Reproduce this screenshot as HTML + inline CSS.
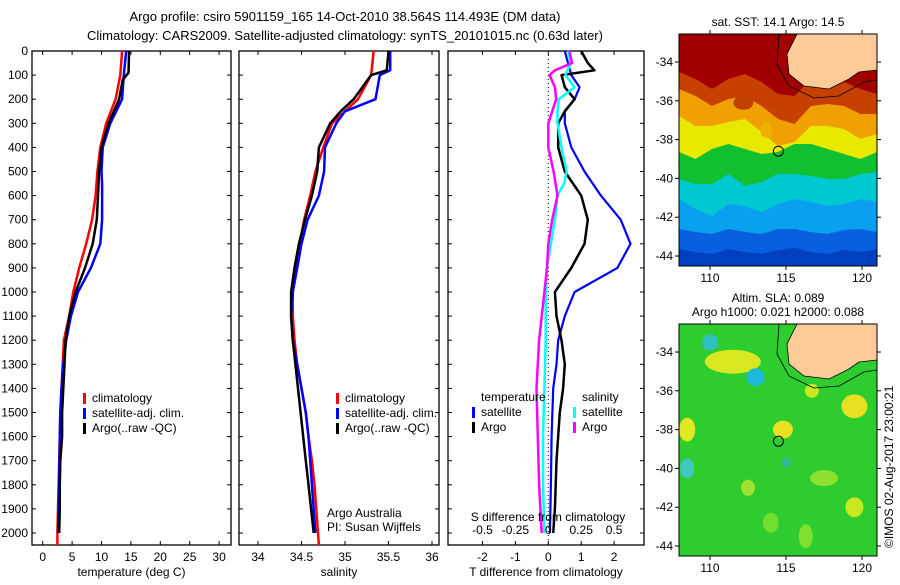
<!DOCTYPE html>
<html><head><meta charset="utf-8"><style>
body{margin:0;background:#fff;}
svg text{font-family:"Liberation Sans",sans-serif;font-size:12px;fill:#000;}
</style></head><body>
<svg id="fig" width="900" height="580" xmlns="http://www.w3.org/2000/svg">
<text x="345" y="21" text-anchor="middle" style="font-size:13px">Argo profile: csiro 5901159_165 14-Oct-2010 38.564S 114.493E (DM data)</text>
<text x="345" y="40" text-anchor="middle" style="font-size:13px">Climatology: CARS2009. Satellite-adjusted climatology: synTS_20101015.nc (0.63d later)</text>
<g id="p1"></g>
<g id="p2"></g>
<g id="p3"></g>
<g id="m1"></g>
<g id="m2"></g>
<text transform="translate(893,548) rotate(-90)" style="font-size:12px">©IMOS 02-Aug-2017 23:00:21</text>
</svg>
<script>
// ---- data ----
const depthTicks=[0,100,200,300,400,500,600,700,800,900,1000,1100,1200,1300,1400,1500,1600,1700,1800,1900,2000];
const tempTicks=[0,5,10,15,20,25,30];
const salTicks=[34,34.5,35,35.5,36];
const tdiffTicks=[-2,-1,0,1,2];
const sdiffTicks=[-0.5,-0.25,0,0.25,0.5];
const tClimD=[0,100,200,300,400,500,600,700,800,900,1000,1100,1200,1300,1400,1500,1600,1700,1800,1900,2000,2050];
const tClimV=[13.5,13.2,12.4,10.8,9.8,9.3,9.0,8.4,7.4,6.2,5.2,4.5,3.6,3.4,3.2,3.0,2.9,2.8,2.7,2.6,2.5,2.5];
const tSatD=[0,100,200,300,400,500,550,700,800,900,1000,1100,1200,1300,1400,1500,1600,1800,2000];
const tSatV=[14.2,13.8,13.5,11.5,10.2,10.0,10.1,10.1,9.8,8.2,6.0,4.8,4.0,3.5,3.2,3.0,2.9,2.8,2.6];
const tArgoD=[0,90,120,200,300,400,500,600,700,800,900,1000,1100,1200,1300,1400,1500,1600,1700,1800,1900,2000];
const tArgoV=[14.7,14.6,13.6,13.0,11.2,10.0,9.6,9.4,9.2,8.5,7.2,5.6,4.5,3.9,3.7,3.5,3.3,3.3,3.0,2.9,2.9,2.8];
const sClimD=[0,100,200,250,300,400,500,600,700,800,900,1000,1100,1200,1300,1400,1500,1600,1700,1800,1900,2000,2050];
const sClimV=[35.33,35.3,35.15,35.0,34.85,34.75,34.66,34.6,34.53,34.48,34.43,34.4,34.4,34.42,34.45,34.5,34.55,34.58,34.62,34.65,34.67,34.69,34.7];
const sSatD=[0,80,100,200,250,300,400,500,600,700,800,900,1000,1100,1200,1300,1400,1500,1600,1800,2000];
const sSatV=[35.52,35.52,35.4,35.35,35.0,34.9,34.77,34.76,34.7,34.57,34.5,34.45,34.4,34.38,34.4,34.45,34.5,34.55,34.58,34.62,34.66];
const sArgoD=[0,80,100,200,250,300,400,500,600,700,800,900,1000,1100,1200,1300,1400,1500,1600,1700,1800,1900,2000];
const sArgoV=[35.5,35.48,35.3,35.1,34.95,34.83,34.7,34.68,34.62,34.54,34.47,34.42,34.38,34.38,34.4,34.43,34.46,34.49,34.52,34.55,34.58,34.61,34.64];
const dTSatD=[0,50,100,150,200,250,300,400,500,600,700,800,900,1000,1100,1200,1300,1400,1600,1800,2000];
const dTSatV=[0.5,0.6,0.7,0.95,0.8,0.5,0.5,0.7,1.1,1.6,2.2,2.5,2.1,0.8,0.5,0.3,0.25,0.15,0.1,0.08,0.05];
const dTArgoD=[0,50,80,100,150,200,250,300,400,500,600,700,800,900,1000,1100,1200,1300,1400,1500,1700,1900,2000];
const dTArgoV=[1.0,1.2,1.4,0.4,0.5,0.8,0.5,0.3,0.3,0.5,1.0,1.2,1.1,0.7,0.2,0.25,0.4,0.5,0.45,0.35,0.25,0.2,0.15];
const dSSatD=[0,50,100,150,200,250,300,400,500,550,600,700,800,900,1000,1200,1400,1600,1800,2000];
const dSSatV=[0.15,0.17,0.13,0.2,0.08,0.07,0.07,0.1,0.14,0.12,0.07,0.05,0.02,-0.01,-0.02,-0.02,-0.03,-0.04,-0.04,-0.03];
const dSArgoD=[0,50,80,100,150,200,300,400,500,600,700,800,900,1000,1200,1400,1600,1800,2000];
const dSArgoV=[0.16,0.18,0.05,0.01,0.05,0.06,0.0,0.0,0.04,0.07,0.03,0.0,-0.01,-0.03,-0.07,-0.09,-0.08,-0.07,-0.05];
const latTicks=[-34,-36,-38,-40,-42,-44];
const lonTicks=[110,115,120];
const floatLon=114.5, floatLat=-38.6;

const NS='http://www.w3.org/2000/svg';
function mk(tag,attrs,parent,txt){const e=document.createElementNS(NS,tag);for(const k in attrs)e.setAttribute(k,attrs[k]);if(txt!==undefined)e.textContent=txt;parent.appendChild(e);return e;}
const yD=d=>51+d*0.241;
const pTop=51,pBot=545;

function panel(g,x0,x1,xs,ticks,xlabel,showDepth){
  const r=mk('rect',{x:x0,y:pTop,width:x1-x0,height:pBot-pTop,fill:'none',stroke:'#000','stroke-width':1.3},g);
  
  
  depthTicks.forEach(d=>{
    mk('line',{x1:x0,x2:x0+4,y1:yD(d),y2:yD(d),stroke:'#000'},g);
    mk('line',{x1:x1,x2:x1-4,y1:yD(d),y2:yD(d),stroke:'#000'},g);
    if(showDepth){const t=mk('text',{x:x0-4,y:yD(d)+4,'text-anchor':'end'},g,String(d));
      
      }
  });
  ticks.forEach(v=>{const x=xs(v);
    mk('line',{x1:x,x2:x,y1:pBot,y2:pBot-4,stroke:'#000'},g);
    mk('line',{x1:x,x2:x,y1:pTop,y2:pTop+4,stroke:'#000'},g);
    const t=mk('text',{x:x,y:561,'text-anchor':'middle'},g,String(v));
    
    
  });
  const xl=mk('text',{x:(x0+x1)/2,y:576,'text-anchor':'middle'},g,xlabel);
  
  
}
function line(g,D,V,xs,col,w,name){
  const pts=D.map((d,i)=>xs(V[i]).toFixed(1)+','+yD(d).toFixed(1)).join(' ');
  const p=mk('polyline',{points:pts,fill:'none',stroke:col,'stroke-width':w,'stroke-linejoin':'round'},g);
  
  
}
function legend(g,x,y,items){
  items.forEach((it,i)=>{
    mk('rect',{x:x,y:y+i*15-9,width:3,height:11,fill:it[1]},g);
    const t=mk('text',{x:x+9,y:y+i*15},g,it[0]);
    
    
  });
}
// Panel 1
const g1=document.getElementById('p1');
const xT=v=>42.7+v*5.88;
panel(g1,32,231,xT,tempTicks,'temperature (deg C)',true);
line(g1,tClimD,tClimV,xT,'#f00',2.5,'temp-climatology-line');
line(g1,tSatD,tSatV,xT,'#00f',2.5,'temp-satellite-line');
line(g1,tArgoD,tArgoV,xT,'#000',2.5,'temp-argo-line');
legend(g1,83,402,[['climatology','#f00'],['satellite-adj. clim.','#00f'],['Argo(..raw -QC)','#000']]);
// Panel 2
const g2=document.getElementById('p2');
const xS=v=>258+(v-34)*87;
panel(g2,239,439,xS,salTicks,'salinity',false);
line(g2,sClimD,sClimV,xS,'#f00',2.5,'sal-climatology-line');
line(g2,sSatD,sSatV,xS,'#00f',2.5,'sal-satellite-line');
line(g2,sArgoD,sArgoV,xS,'#000',2.5,'sal-argo-line');
legend(g2,336,402,[['climatology','#f00'],['satellite-adj. clim.','#00f'],['Argo(..raw -QC)','#000']]);
let t=mk('text',{x:327,y:517},g2,'Argo Australia');
t=mk('text',{x:327,y:531},g2,'PI: Susan Wijffels');
// Panel 3
const g3=document.getElementById('p3');
const xDT=v=>548.3+v*32.9;
const xDS=v=>548.3+v*131.6;
panel(g3,448,644,xDT,tdiffTicks,'T difference from climatology',false);
mk('line',{x1:548.3,x2:548.3,y1:pTop,y2:pBot,stroke:'#000','stroke-dasharray':'1,3'},g3);
line(g3,dTSatD,dTSatV,xDT,'#00f',2.2,'tdiff-satellite-line');
line(g3,dTArgoD,dTArgoV,xDT,'#000',2.5,'tdiff-argo-line');
line(g3,dSSatD,dSSatV,xDS,'#0ff',2.5,'sdiff-satellite-line');
line(g3,dSArgoD,dSArgoV,xDS,'#f0f',2.5,'sdiff-argo-line');
sdiffTicks.forEach(v=>{const s=mk('text',{x:xDS(v),y:534,'text-anchor':'middle'},g3,String(v));
  
  });
t=mk('text',{x:548,y:521,'text-anchor':'middle'},g3,'S difference from climatology');
t=mk('text',{x:481,y:401},g3,'temperature');
t=mk('text',{x:582,y:401},g3,'salinity');
legend(g3,472,416,[['satellite','#00f'],['Argo','#000']]);
legend(g3,573,416,[['satellite','#0ff'],['Argo','#f0f']]);

// Maps
function map(g,y0,title,bands,blobs){
  const x0=679,x1=877,y1=y0+232;
  const lonX=l=>710+(l-110)*15.2;
  const latY=l=>y0+28+(-34-l)*19.4;
  const cp=mk('clipPath',{id:'c'+y0},g);mk('rect',{x:x0,y:y0,width:x1-x0,height:y1-y0},cp);
  const inner=mk('g',{'clip-path':'url(#c'+y0+')'},g);
  mk('rect',{x:x0,y:y0,width:x1-x0,height:y1-y0,fill:bands[0][1]},inner);
  bands.slice(1).forEach(b=>{
    const pts=b[0].map((yy,i)=>(x0+i*(x1-x0)/(b[0].length-1)).toFixed(1)+','+(y0+yy)).join(' ');
    mk('polygon',{points:pts+' '+x1+','+y1+' '+x0+','+y1,fill:b[1]},inner);
  });
  blobs.forEach(b=>mk('ellipse',{cx:lonX(b[0]),cy:latY(b[1]),rx:b[2],ry:b[3],fill:b[4]},inner));
  const coast='M'+(x0+118)+','+y0+' L'+(x0+108)+','+(y0+20)+' L'+(x0+110)+','+(y0+40)+' L'+(x0+125)+','+(y0+52)+' L'+(x0+150)+','+(y0+55)+' L'+(x0+170)+','+(y0+45)+' L'+(x0+180)+','+(y0+38)+' L'+x1+','+(y0+36)+' L'+x1+','+y0+' Z';
  mk('path',{d:coast,fill:'#fc9',stroke:'#000','stroke-width':0.8},inner);
  mk('path',{d:'M'+(x0+100)+','+y0+' L'+(x0+98)+','+(y0+30)+' L'+(x0+110)+','+(y0+52)+' L'+(x0+135)+','+(y0+64)+' L'+(x0+160)+','+(y0+62)+' L'+(x0+185)+','+(y0+48)+' L'+x1+','+(y0+46),fill:'none',stroke:'#000','stroke-width':0.8},inner);
  const c=mk('circle',{cx:lonX(floatLon),cy:latY(floatLat),r:5,fill:'none',stroke:'#000'},g);
  
  
  mk('rect',{x:x0,y:y0,width:x1-x0,height:y1-y0,fill:'none',stroke:'#000'},g);
  latTicks.forEach(v=>{const y=latY(v);
    mk('line',{x1:x0,x2:x0-4,y1:y,y2:y,stroke:'#000'},g);mk('line',{x1:x1,x2:x1+4,y1:y,y2:y,stroke:'#000'},g);
    const s=mk('text',{x:x0-6,y:y+4,'text-anchor':'end'},g,String(v));
    
    });
  lonTicks.forEach(v=>{const x=lonX(v);
    mk('line',{x1:x,x2:x,y1:y0,y2:y0-4,stroke:'#000'},g);mk('line',{x1:x,x2:x,y1:y1,y2:y1+4,stroke:'#000'},g);
    const s=mk('text',{x:x,y:y1+16,'text-anchor':'middle'},g,String(v));
    
    });
  title.forEach((tt,i)=>{const s=mk('text',{x:(x0+x1)/2,y:y0-8-(title.length-1-i)*14,'text-anchor':'middle'},g,tt);
    
    });
}
map(document.getElementById('m1'),34,['sat. SST: 14.1  Argo: 14.5'],[
 [null,'#a00000'],
 [[38,45,55,45,40,48,60,62,45,40,48,55,60],'#c84000'],
 [[55,62,72,65,62,72,85,90,72,70,72,80,80],'#f0a000'],
 [[82,92,92,88,85,98,112,108,92,92,95,105,100],'#e8e800'],
 [[118,125,115,110,115,120,118,110,110,115,120,125,118],'#10c030'],
 [[145,150,150,140,152,148,140,140,142,145,145,140,138],'#00c8d0'],
 [[165,175,182,170,172,178,170,165,168,172,170,165,168],'#0aa0f0'],
 [[195,198,200,195,198,200,195,195,198,200,196,195,198],'#0860e0'],
 [[215,218,220,215,218,220,216,214,218,220,216,218,215],'#0040c0']
],[[112.2,-36.1,10,7,'#c04000'],[113.7,-37.5,6,8,'#f0b000']]);
map(document.getElementById('m2'),324,['Altim. SLA: 0.089','Argo h1000: 0.021 h2000: 0.088'],[[null,'#2ecc2e']],[
 [111.5,-34.5,28,12,'#d8e820'],[110,-33.5,8,8,'#30c0c0'],[113,-35.3,9,9,'#20b8d8'],
 [108.5,-38,8,12,'#e0e820'],[108.5,-40,7,10,'#40c8c0'],[114.8,-38,10,9,'#e8e020'],
 [119.5,-36.8,13,12,'#e8e020'],[116.7,-36,7,7,'#c8e820'],[117.5,-40.5,14,8,'#90e030'],
 [119.5,-42,9,10,'#c8e820'],[112.5,-41,7,8,'#a0e030'],[115,-39.7,4,5,'#30b8a0'],
 [116.3,-43.5,7,12,'#80e030'],[114,-42.8,8,10,'#70e030']
]);
</script>
</body></html>
